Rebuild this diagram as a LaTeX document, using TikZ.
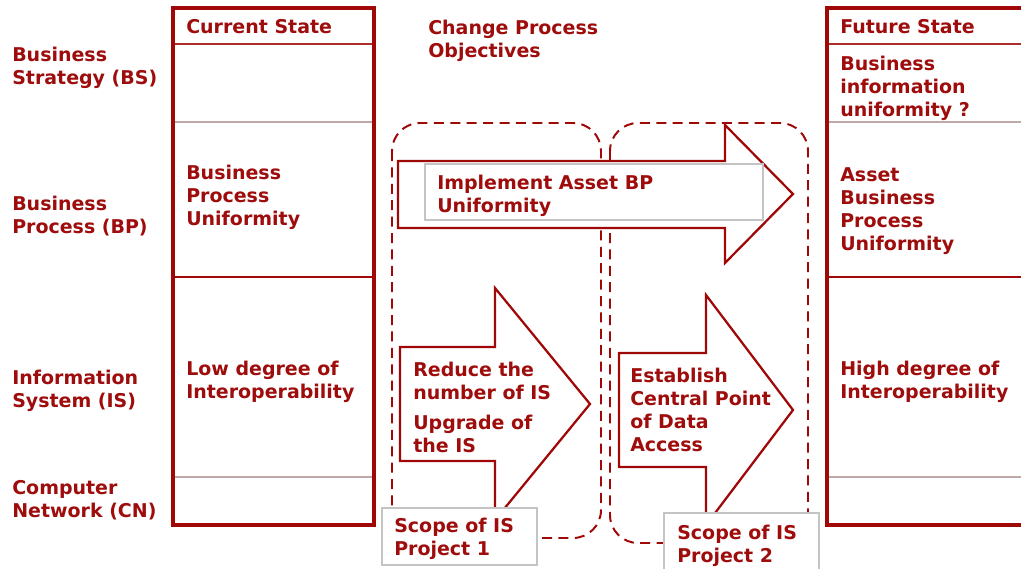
\documentclass[tikz,border=0pt]{standalone}
\usepackage{fontspec}
\setmainfont{DejaVu Sans}
\usepackage{tikz}
\definecolor{frameRed}{RGB}{160,8,8}
\definecolor{textRed}{RGB}{158,12,12}
\definecolor{rowGrey}{RGB}{192,168,168}
\definecolor{scopeGrey}{RGB}{196,196,196}
\tikzset{
  txt/.style={anchor=north west, inner sep=0pt, align=left, text=textRed, font=\bfseries\fontsize{13.5}{16.4}\selectfont},
  statebox/.style={draw=frameRed, line width=2.2pt},
  headline/.style={draw=frameRed!85, line width=1.5pt},
  layerline/.style={draw=frameRed, line width=1.5pt},
  rowline/.style={draw=rowGrey, line width=1.3pt},
  goalarrow/.style={draw=frameRed, fill=white, line width=1.6pt, line join=miter},
  scopeline/.style={draw=frameRed, dash pattern=on 0.25cm off 0.16cm, line width=1.4pt, rounded corners=0.7cm},
  scopebox/.style={draw=scopeGrey, fill=white, line width=1pt}
}

\begin{document}
\begin{tikzpicture}[x=0.025cm, y=-0.025cm]
  \clip (0,0) rectangle (1021,569);
  \fill[white] (0,0) rectangle (1021,569);

  % layer labels
  \node[txt] (bs) at (12,47) {Business\\Strategy (BS)};
  \node[txt] (bp) at (12,196) {Business\\Process (BP)};
  \node[txt] (is) at (12,370) {Information\\System (IS)};
  \node[txt] (cn) at (12,480) {Computer\\Network (CN)};

  % current state column
  \draw[rowline] (173,122) -- (374,122);
  \draw[rowline] (173,477) -- (374,477);
  \draw[headline] (173,44) -- (374,44);
  \draw[layerline] (173,277) -- (374,277);
  \draw[statebox] (173,8) rectangle (374,525);
  \node[txt] (cur) at (186,19) {Current State};
  \node[txt] (curbp) at (186,165) {Business\\Process\\Uniformity};
  \node[txt] (curis) at (186,361) {Low degree of\\Interoperability};

  % future state column
  \draw[rowline] (827,122) -- (1030,122);
  \draw[rowline] (827,477) -- (1030,477);
  \draw[headline] (827,44) -- (1030,44);
  \draw[layerline] (827,277) -- (1030,277);
  \draw[statebox] (827,8) rectangle (1040,525);
  \node[txt] (fut) at (840,19) {Future State};
  \node[txt] (futbs) at (840,56) {Business\\information\\uniformity ?};
  \node[txt] (futbp) at (840,167) {Asset\\Business\\Process\\Uniformity};
  \node[txt] (futis) at (840,361) {High degree of\\Interoperability};

  % change process
  \node[txt] (obj) at (428,20) {Change Process\\Objectives};

  % project scopes
  \draw[scopeline] (392,123) rectangle (601,538);
  \draw[scopeline] (610,123) rectangle (808,543);

  % objectives
  \draw[goalarrow] (398,161) -- (725,161) -- (725,125) -- (793,194) -- (725,263)
    -- (725,228) -- (398,228) -- cycle;
  \draw[scopebox, line width=0.8pt] (425,164) rectangle (763,220);
  \node[txt] (bpgoal) at (437,175) {Implement Asset BP\\Uniformity};

  \draw[goalarrow] (400,347) -- (495,347) -- (495,288) -- (590,404) -- (495,520)
    -- (495,461) -- (400,461) -- cycle;
  \node[txt] (isgoal) at (413,362) {Reduce the\\number of IS\\[0.17cm]Upgrade of\\the IS};

  \draw[goalarrow] (619,353) -- (706,353) -- (706,295) -- (793,410) -- (706,525)
    -- (706,467) -- (619,467) -- cycle;
  \node[txt] (dagoal) at (630,368) {Establish\\Central Point\\of Data\\Access};

  % scope labels
  \draw[scopebox] (382,508) rectangle (537,565);
  \node[txt] (scope1) at (394,518) {Scope of IS\\Project 1};
  \draw[scopebox] (664,513) rectangle (819,580);
  \node[txt] (scope2) at (677,525) {Scope of IS\\Project 2};
\end{tikzpicture}
\end{document}
